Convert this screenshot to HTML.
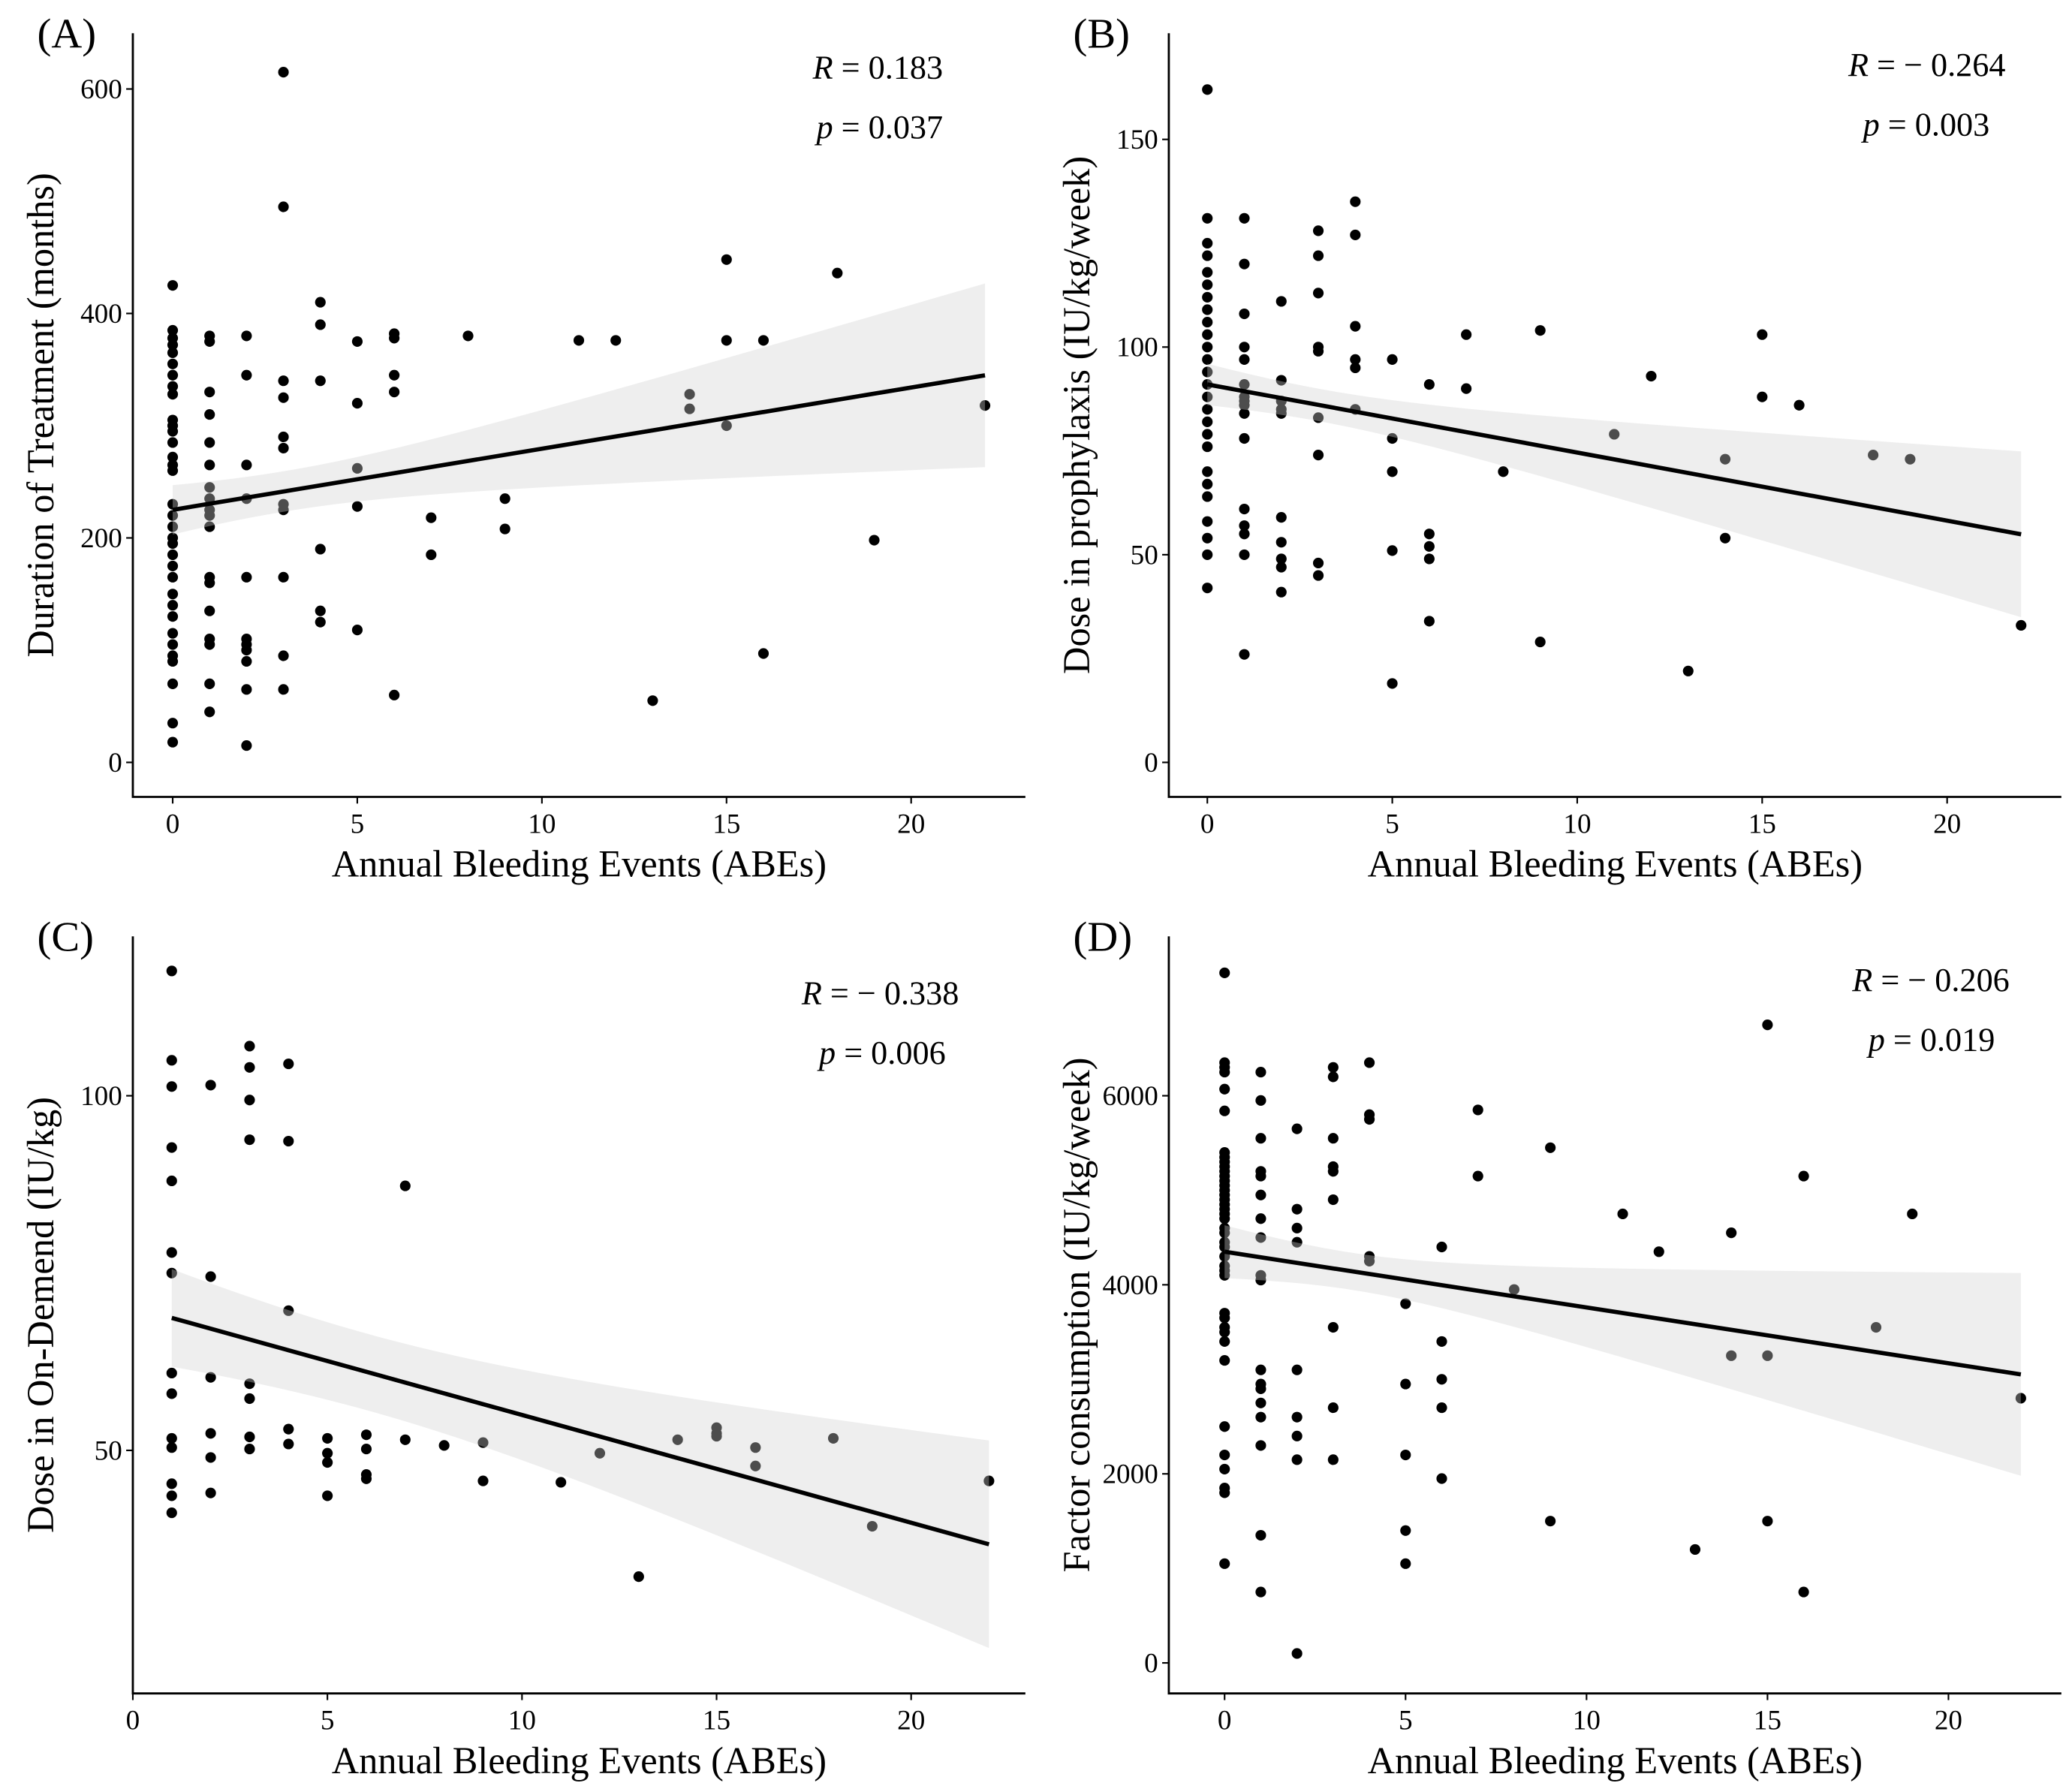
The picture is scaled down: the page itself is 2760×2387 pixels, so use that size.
<!DOCTYPE html>
<html><head><meta charset="utf-8"><style>
html,body{margin:0;padding:0;background:#fff}
svg{display:block}
text{font-family:"Liberation Serif",serif;fill:#000}
</style></head><body>
<svg id="chart" width="2760" height="2387" viewBox="0 0 1560 1349.2" xmlns="http://www.w3.org/2000/svg"></svg>
<script>
// Panel A data
const aX = [0,0,0,0,0,0,0,0,0,0,0,0,0,0,0,0,0,0,0,0,0,0,0,0,0,0,0,0,0,0,0,0,0,0, 1,1,1,1,1,1,1,1,1,1,1,1,1,1,1,1,1,1, 2,2,2,2,2,2,2,2,2,2,2, 3,3,3,3,3,3,3,3,3,3,3, 4,4,4,4,4,4, 5,5,5,5,5, 6,6,6,6,6, 7,7,8,9,9,11,12,13,14,14,15,15,15,16,16,18,19,22];
const aY = [425,385,378,372,365,355,345,335,328,305,300,295,285,272,265,260,230,220,210,200,195,185,175,165,150,140,130,115,105,95,90,70,35,18, 380,375,330,310,285,265,245,235,225,220,210,165,160,135,110,105,70,45, 380,345,265,235,165,110,105,100,90,65,15, 615,495,340,325,290,280,230,225,165,95,65, 410,390,340,190,135,125, 375,320,262,228,118, 382,378,345,330,60, 218,185,380,235,208,376,376,55,328,315,448,376,300,376,97,436,198,318];
const aTicksX = [0,5,10,15,20];
const aTicksY = [0,200,400,600];
const aFit = [225, 5.45];       // intercept, slope
const aCI = [3, 18, 4.2];       // centre x, min half-width, spread
// Panel B data
const bX = [0,0,0,0,0,0,0,0,0,0,0,0,0,0,0,0,0,0,0,0,0,0,0,0,0,0, 1,1,1,1,1,1,1,1,1,1,1,1,1,1,1,1, 2,2,2,2,2,2,2,2,2,2, 3,3,3,3,3,3,3,3,3, 4,4,4,4,4,4, 5,5,5,5,5, 6,6,6,6,6, 7,7,8,9,9,11,12,13,14,14,15,15,16,18,19,22];
const bY = [162,131,125,122,118,115,112,109,106,103,100,97,94,91,88,85,82,79,76,70,67,64,58,54,50,42, 131,120,108,100,97,91,88,87,86,84,78,61,57,55,50,26, 111,92,87,85,84,59,53,49,47,41, 128,122,113,100,99,83,74,48,45, 135,127,105,97,95,85, 97,78,70,51,19, 91,55,52,49,34, 103,90,70,104,29,79,93,22,73,54,103,88,86,74,73,33];
const bTicksX = [0,5,10,15,20];
const bTicksY = [0,50,100,150];
const bFit = [91, -1.64];
const bCI = [3, 3.9, 1.03];
// Panel C data
const cX = [1,1,1,1,1,1,1,1,1,1,1,1,1,1, 2,2,2,2,2,2, 3,3,3,3,3,3,3,3, 4,4,4,4,4, 5,5,5,5, 6,6,6,6, 7,7,8,9,9,11,12,13,14,15,15,15,16,16,18,19,22];
const cY = [117.6,105,101.3,92.7,88,77.9,75,60.9,58,51.7,50.4,45.3,43.6,41.2, 101.5,74.5,60.3,52.4,49,44, 107,104,99.4,93.8,59.4,57.3,51.9,50.2, 104.5,93.6,69.7,53,50.9, 51.7,49.6,48.3,43.6, 52.2,50.2,46.6,46, 87.3,51.5,50.7,51.1,45.7,45.5,49.6,32.2,51.5,53.2,52.4,52,50.4,47.8,51.7,39.3,45.7];
const cTicksX = [0,5,10,15,20];
const cTicksY = [50,100];
const cFit = [70.2, -1.52];
const cCI = [6, 5.4, 0.85];
// Panel D data
const dX = [0,0,0,0,0,0,0,0,0,0,0,0,0,0,0,0,0,0,0,0,0,0,0,0,0,0,0,0,0,0,0,0,0,0,0,0,0,0,0,0,0, 1,1,1,1,1,1,1,1,1,1,1,1,1,1,1,1,1,1, 2,2,2,2,2,2,2,2,2, 3,3,3,3,3,3,3,3,3, 4,4,4,4,4, 5,5,5,5,5, 6,6,6,6,6, 7,7,8,9,9,11,12,13,14,14,15,15,15,16,16,18,19,22];
const dY = [7300,6350,6300,6250,6070,5840,5400,5350,5300,5250,5200,5150,5100,5050,5000,4950,4900,4850,4800,4750,4700,4600,4550,4450,4400,4300,4200,4150,4100,3700,3650,3550,3500,3400,3200,2500,2200,2050,1850,1800,1050, 6250,5950,5550,5200,5150,4950,4700,4500,4100,4050,3100,2950,2900,2750,2600,2300,1350,750, 5650,4800,4600,4450,3100,2600,2400,2150,100, 6300,6200,5550,5250,5200,4900,3550,2700,2150, 6350,5800,5750,4300,4250, 3800,2950,2200,1400,1050, 4400,3400,3000,2700,1950, 5850,5150,3950,5450,1500,4750,4350,1200,4550,3250,6750,3250,1500,5150,750,3550,4750,2800];
const dTicksX = [0,5,10,15,20];
const dTicksY = [0,2000,4000,6000];
const dFit = [4350, -59];
const dCI = [3.5, 196, 57];

const NS = 'http://www.w3.org/2000/svg';
const svg = document.getElementById('chart');
function mk(tag, attrs, parent){ const e=document.createElementNS(NS,tag); for(const k in attrs) e.setAttribute(k,attrs[k]); (parent||svg).appendChild(e); return e; }

const panels = [
 {id:'a', label:'(A)', X:aX, Y:aY, tx:aTicksX, ty:aTicksY, fit:aFit, ci:aCI, x0:130, kx:27.8, y0:574, ky:0.845, v0:0, axL:100, axR:772, axT:25, axB:600, xmin:0,
  ytitle:'Duration of Treatment (months)', R:'0.183', p:'0.037', Rpos:[710,50], ppos:[710,95], lab:[28,36], ytx:40},
 {id:'b', label:'(B)', X:bX, Y:bY, tx:bTicksX, ty:bTicksY, fit:bFit, ci:bCI, x0:909, kx:27.85, y0:574, ky:3.127, v0:0, axL:880, axR:1552, axT:25, axB:600, xmin:0,
  ytitle:'Dose in prophylaxis (IU/kg/week)', R:'\u2212 0.264', p:'0.003', Rpos:[1510,48], ppos:[1498,93], lab:[808,36], ytx:820},
 {id:'c', label:'(C)', X:cX, Y:cY, tx:cTicksX, ty:cTicksY, fit:cFit, ci:cCI, x0:100, kx:29.3, y0:1092, ky:5.34, v0:50, axL:100, axR:772, axT:705, axB:1275, xmin:1,
  ytitle:'Dose in On-Demend (IU/kg)', R:'\u2212 0.338', p:'0.006', Rpos:[722,747], ppos:[712,792], lab:[28,716], ytx:40},
 {id:'d', label:'(D)', X:dX, Y:dY, tx:dTicksX, ty:dTicksY, fit:dFit, ci:dCI, x0:922, kx:27.25, y0:1252, ky:0.07117, v0:0, axL:880, axR:1552, axT:705, axB:1275, xmin:0,
  ytitle:'Factor consumption (IU/kg/week)', R:'\u2212 0.206', p:'0.019', Rpos:[1513,737], ppos:[1502,782], lab:[808,716], ytx:820}
];

panels.forEach(P=>{
  const g = mk('g',{});
  
  
  const sx = v=>P.x0+P.kx*v;
  const sy = v=>P.y0-P.ky*(v-P.v0);
  const pts = mk('g',{},g);
  
  
  P.X.forEach((x,i)=>{
    const c = mk('circle',{cx:sx(x),cy:sy(P.Y[i]),r:4,fill:'#000'},pts);
    
    
  });
  const xmax = Math.max(...P.X);
  const hw = x=>Math.sqrt(P.ci[1]*P.ci[1] + P.ci[2]*P.ci[2]*(x-P.ci[0])*(x-P.ci[0]));
  const fy = x=>P.fit[0]+P.fit[1]*x;
  let up=[], lo=[];
  for(let k=0;k<=40;k++){ const x=P.xmin+(xmax-P.xmin)*k/40; up.push(sx(x)+','+sy(fy(x)+hw(x))); lo.unshift(sx(x)+','+sy(fy(x)-hw(x))); }
  const rib = mk('polygon',{points:up.concat(lo).join(' '),fill:'#d0d0d0','fill-opacity':0.37},g);
  
  
  const ln = mk('line',{x1:sx(P.xmin),y1:sy(fy(P.xmin)),x2:sx(xmax),y2:sy(fy(xmax)),stroke:'#000','stroke-width':3.2},g);
  
  
  const ax = mk('path',{d:`M${P.axL},${P.axT} V${P.axB} H${P.axR}`,fill:'none',stroke:'#000','stroke-width':1.6},g);
  
  
  P.tx.forEach(t=>{
    mk('line',{x1:sx(t),x2:sx(t),y1:P.axB,y2:P.axB+5,stroke:'#000','stroke-width':1.2},g);
    const tt = mk('text',{x:sx(t),y:P.axB+27,'font-size':21,'text-anchor':'middle',fill:'#333'},g);
    tt.textContent=t;
    
    
  });
  P.ty.forEach(t=>{
    mk('line',{x1:P.axL-5,x2:P.axL,y1:sy(t),y2:sy(t),stroke:'#000','stroke-width':1.2},g);
    const tt = mk('text',{x:P.axL-8,y:sy(t)+7,'font-size':21,'text-anchor':'end',fill:'#333'},g);
    tt.textContent=t;
    
    
  });
  const xt = mk('text',{x:(P.axL+P.axR)/2,y:P.axB+60,'font-size':28.5,'text-anchor':'middle'},g);
  xt.textContent='Annual Bleeding Events (ABEs)';
  
  
  const cy=(P.axT+P.axB)/2;
  const yt = mk('text',{x:P.ytx,y:cy,'font-size':28.5,'text-anchor':'middle',transform:`rotate(-90 ${P.ytx} ${cy})`},g);
  yt.textContent=P.ytitle;
  
  
  const lb = mk('text',{x:P.lab[0],y:P.lab[1],'font-size':32},g);
  lb.textContent=P.label;
  
  
  const rt = mk('text',{x:P.Rpos[0],y:P.Rpos[1]+9,'font-size':25,'text-anchor':'end'},g);
  rt.innerHTML='<tspan font-style="italic">R</tspan> = '+P.R;
  
  
  const pt = mk('text',{x:P.ppos[0],y:P.ppos[1]+9,'font-size':25,'text-anchor':'end'},g);
  pt.innerHTML='<tspan font-style="italic">p</tspan> = '+P.p;
  
  
});
</script>
</body></html>
